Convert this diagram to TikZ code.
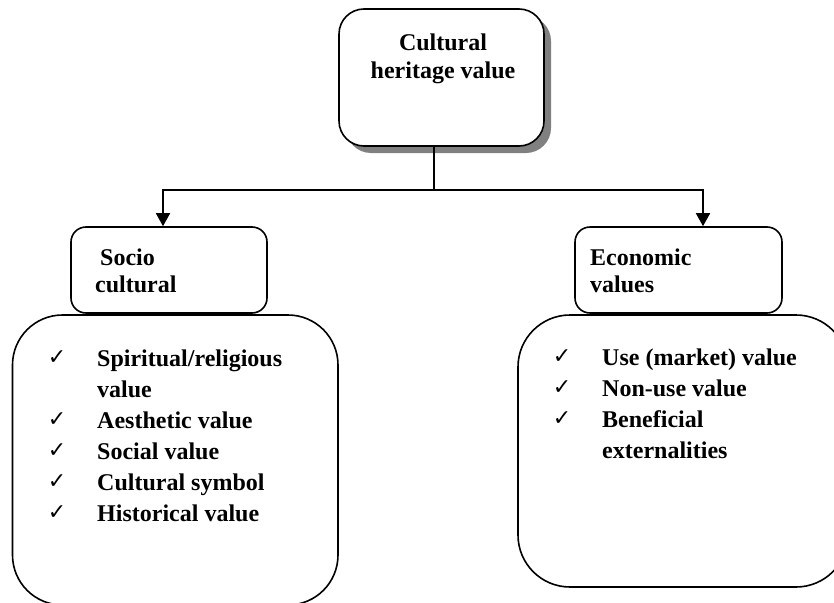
\documentclass[tikz,border=0pt]{standalone}
\usepackage{fontspec}
\setmainfont{Liberation Serif}
\newfontfamily\symfont{DejaVu Sans}
\usetikzlibrary{shadows,arrows.meta}
\begin{document}
\begin{tikzpicture}[x=1pt,y=-1pt,
  box/.style={draw,line width=1.6pt,rounded corners=#1,fill=white,inner sep=0pt},
  lbl/.style={font=\fontsize{24}{31}\selectfont\bfseries,inner sep=0pt,anchor=base west},
  ctr/.style={font=\fontsize{24}{31}\selectfont\bfseries,inner sep=0pt,anchor=base},
  tick/.style={font=\symfont\fontsize{22}{24}\selectfont,inner sep=0pt,anchor=base},
  conn/.style={line width=1.6pt},
  arr/.style={line width=1.6pt,-{Triangle[length=13pt,width=14pt]}}
]
\useasboundingbox (0,0) rectangle (834,602);
\clip (0,0) rectangle (834,602);
\fill[white] (0,0) rectangle (834,602);

% top box
\node[box=25pt,minimum width=205pt,minimum height=137pt,
  drop shadow={shadow xshift=7pt,shadow yshift=-7pt,fill=black!50,opacity=1}] (top) at (441.5,77.5) {};
\node[ctr] (t1) at (443,50) {Cultural};
\node[ctr] (t2) at (443,78) {heritage value};

% second-level boxes
\node[box=15pt,minimum width=196pt,minimum height=86pt] (ls) at (169,270) {};
\node[box=15pt,minimum width=207pt,minimum height=86pt] (rs) at (678.5,270) {};
\node[lbl] (s1) at (100,265) {Socio};
\node[lbl] (s2) at (95,292) {cultural};
\node[lbl] (e1) at (590,265) {Economic};
\node[lbl] (e2) at (590,292) {values};

% big boxes
\node[box=50pt,minimum width=325.5pt,minimum height=290pt] (lb) at (175.25,460) {};
\node[box=52pt,minimum width=330pt,minimum height=272pt] (rb) at (683,451) {};

% connectors
\coordinate (j) at (434,190);
\coordinate (la) at (163,190);
\coordinate (ra) at (703,190);
\draw[conn] (j |- top.south) -- (j);
\draw[arr] (j) -| (la |- ls.north);
\draw[arr] (j) -| (ra |- rs.north);

% left list
\node[tick] (lc1) at (57,364) {✓};
\node[lbl] (l1) at (97,366) {Spiritual/religious};
\node[lbl] (l1b) at (97,397) {value};
\node[tick] (lc2) at (57,426) {✓};
\node[lbl] (l2) at (97,428) {Aesthetic value};
\node[tick] (lc3) at (57,457) {✓};
\node[lbl] (l3) at (97,459) {Social value};
\node[tick] (lc4) at (57,488) {✓};
\node[lbl] (l4) at (97,490) {Cultural symbol};
\node[tick] (lc5) at (57,519) {✓};
\node[lbl] (l5) at (97,521) {Historical value};

% right list
\node[tick] (rc1) at (562,363) {✓};
\node[lbl] (r1) at (602,365) {Use (market) value};
\node[tick] (rc2) at (562,394) {✓};
\node[lbl] (r2) at (602,396) {Non-use value};
\node[tick] (rc3) at (562,425) {✓};
\node[lbl] (r3) at (602,427) {Beneficial};
\node[lbl] (r3b) at (602,458) {externalities};
\end{tikzpicture}
\end{document}
